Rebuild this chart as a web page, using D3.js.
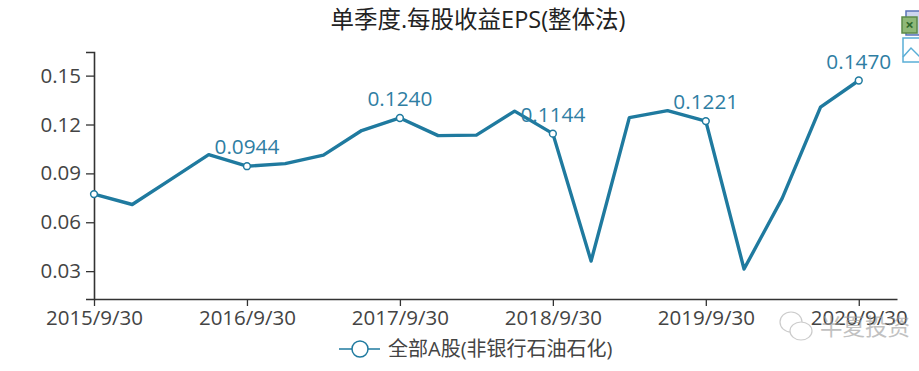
<!DOCTYPE html>
<html>
<head>
<meta charset="utf-8">
<script src="https://d3js.org/d3.v7.min.js"></script>
<style>
html, body { margin: 0; padding: 0; background: #fff; }
svg { display: block; }
text { font-family: "Open Sans", "Noto Sans CJK SC", sans-serif; }
</style>
</head>
<body>
<div id="chart"></div>
<script>
const dates = ["2015/9/30", "2015/12/31", "2016/3/31", "2016/6/30", "2016/9/30", "2016/12/31", "2017/3/31",
    "2017/6/30", "2017/9/30", "2017/12/31", "2018/3/31", "2018/6/30", "2018/9/30", "2018/12/31",
    "2019/3/31", "2019/6/30", "2019/9/30", "2019/12/31", "2020/3/31", "2020/6/30", "2020/9/30"];
const eps = [0.0773, 0.0709, 0.0862, 0.1015, 0.0944, 0.0960, 0.1012, 0.1163, 0.1240, 0.1132, 0.1135,
    0.1282, 0.1144, 0.0362, 0.1242, 0.1285, 0.1221, 0.0313, 0.0748, 0.1307, 0.1470];
const yTicks = [0.03, 0.06, 0.09, 0.12, 0.15];
const xTickLabels = ["2015/9/30", "2016/9/30", "2017/9/30", "2018/9/30", "2019/9/30", "2020/9/30"];
const title = "单季度.每股收益EPS(整体法)";
const seriesName = "全部A股(非银行石油石化)";
const watermark = "半夏投资";

const w = 919, h = 371;
const lineColor = "#1f7a9f", labelColor = "#2f7ea3", axisColor = "#333", textColor = "#444";

const svg = d3.select("#chart").append("svg").attr("width", w).attr("height", h);

// one extra slot on the right, the axis runs on past the last point
const x = d3.scaleLinear().domain([0, dates.length]).range([94, 897]);
const y = d3.scaleLinear().domain([0.0129, 0.1645]).range([299, 52]);

svg.append("text").text(title)
    .attr("x", 478).attr("y", 28)
    .attr("text-anchor", "middle")
    .attr("font-size", 23.5)
    .attr("fill", "#222");

const xAxis = d3.axisBottom(x)
    .tickValues(xTickLabels.map(d => dates.indexOf(d)))
    .tickFormat(i => dates[i])
    .tickSize(7).tickSizeOuter(0).tickPadding(4);

const yAxis = d3.axisLeft(y)
    .tickValues(yTicks)
    .tickFormat(d3.format(".2f"))
    .tickSize(8).tickPadding(5);

const xGroup = svg.append("g").attr("transform", "translate(0,299)").call(xAxis);
const yGroup = svg.append("g").attr("transform", "translate(94,0)").call(yAxis);

[xGroup, yGroup].forEach(g => {
    g.select(".domain").attr("stroke", axisColor).attr("stroke-width", 1.6);
    g.selectAll(".tick line").attr("stroke", axisColor).attr("stroke-width", 1.3);
    g.selectAll(".tick text").attr("fill", textColor).attr("font-size", 20.5)
        .style("font-family", '"Open Sans", sans-serif');
});

const line = d3.line().x((d, i) => x(i)).y(d => y(d));

svg.append("path").datum(eps)
    .attr("d", line)
    .attr("fill", "none")
    .attr("stroke", lineColor)
    .attr("stroke-width", 3.4)
    .attr("stroke-linejoin", "round");

// only the september quarters get a marker and a label
const marked = xTickLabels.map(d => dates.indexOf(d));

svg.selectAll("circle.pt").data(marked)
    .enter().append("circle")
        .attr("class", "pt")
        .attr("cx", i => x(i))
        .attr("cy", i => y(eps[i]))
        .attr("r", 3.4)
        .attr("fill", "#fff")
        .attr("stroke", lineColor)
        .attr("stroke-width", 1.5);

svg.selectAll("text.val").data(marked.slice(1))
    .enter().append("text")
        .attr("class", "val")
        .attr("x", i => x(i))
        .attr("y", i => y(eps[i]) - 12)
        .attr("text-anchor", "middle")
        .attr("font-size", 20.8)
        .attr("fill", labelColor)
        .text(i => eps[i].toFixed(4));

// legend
const legend = svg.append("g").attr("transform", "translate(360,349)");
legend.append("line").attr("x1", -21).attr("x2", 20)
    .attr("stroke", lineColor).attr("stroke-width", 1.5);
legend.append("circle").attr("r", 8)
    .attr("fill", "#fff").attr("stroke", lineColor).attr("stroke-width", 1.5);
legend.append("text").text(seriesName)
    .attr("x", 28).attr("y", 7)
    .attr("font-size", 20)
    .attr("fill", textColor);

// toolbox icons, cut off by the right edge
const tools = svg.append("g");
tools.append("rect").attr("x", 906).attr("y", 11).attr("width", 16).attr("height", 24)
    .attr("fill", "#cdd6ee").attr("stroke", "#5b74b8").attr("stroke-width", 1.5);
tools.append("rect").attr("x", 902).attr("y", 17).attr("width", 15).attr("height", 16)
    .attr("fill", "#8fb878").attr("stroke", "#5c8a48").attr("stroke-width", 1.5);
tools.append("text").text("×").attr("x", 909.5).attr("y", 30)
    .attr("text-anchor", "middle").attr("font-size", 15).attr("font-weight", "bold").attr("fill", "#2f6a2c");
tools.append("rect").attr("x", 903).attr("y", 38).attr("width", 20).attr("height", 24)
    .attr("fill", "#fff").attr("stroke", "#5aaed6").attr("stroke-width", 1.5);
tools.append("path").attr("d", "M903,57 L911,48 L920,57")
    .attr("fill", "none").attr("stroke", "#5aaed6").attr("stroke-width", 1.5);

// wechat watermark over the last tick label
const mark = svg.append("g").attr("opacity", 0.6);
mark.append("ellipse").attr("cx", 791).attr("cy", 322).attr("rx", 11).attr("ry", 10)
    .attr("fill", "none").attr("stroke", "#aaa").attr("stroke-width", 1.2);
mark.append("ellipse").attr("cx", 801).attr("cy", 331).attr("rx", 11).attr("ry", 9)
    .attr("fill", "#fff").attr("stroke", "#aaa").attr("stroke-width", 1.2);
mark.append("text").text(watermark)
    .attr("x", 820).attr("y", 335)
    .attr("font-size", 22.5)
    .attr("fill", "#999");
</script>
</body>
</html>
